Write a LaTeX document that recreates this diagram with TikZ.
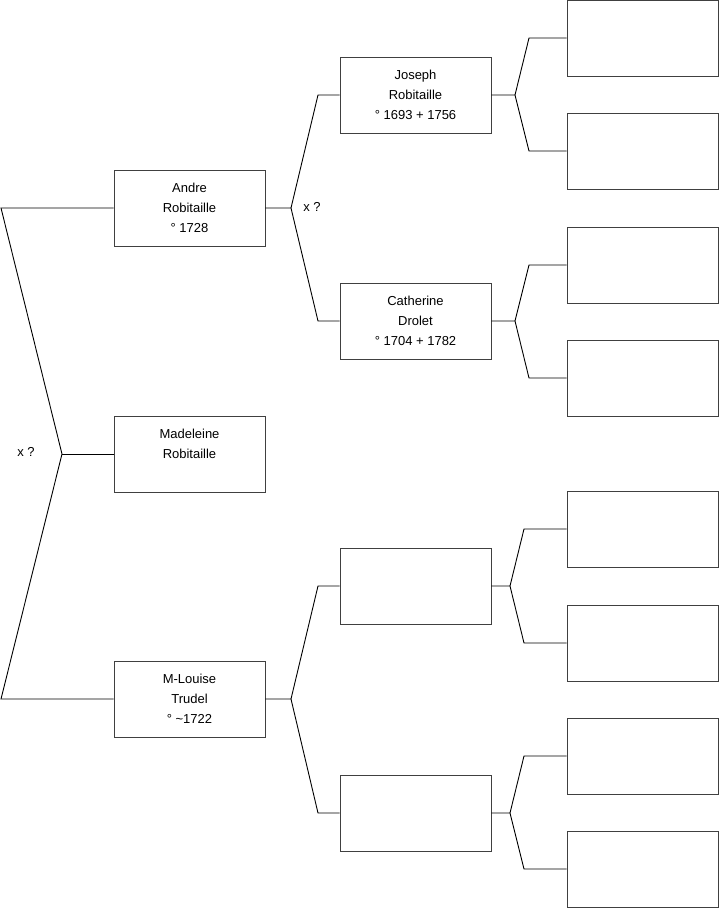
\documentclass[tikz,border=0pt]{standalone}
\usepackage{fontspec}
\setmainfont{Liberation Sans}
\begin{document}
\begin{tikzpicture}[x=1pt,y=-1pt,
  person/.style={draw=black!75,line width=0.9pt,minimum width=151pt,minimum height=76pt,inner sep=0pt,align=center,font=\fontsize{13}{20}\selectfont},
  link/.style={draw=black,line width=0.9pt},
  lbl/.style={font=\fontsize{13}{16}\selectfont,inner sep=0pt}]
\useasboundingbox (0,0) rectangle (719,908);
% generation 1
\node[person] (andre) at (189.5,208) {Andre\\Robitaille\\° 1728};
\node[person] (madeleine) at (189.5,454) {Madeleine\\Robitaille\\\mbox{}};
\node[person] (mlouise) at (189.5,699) {M-Louise\\Trudel\\° \textasciitilde1722};
% generation 2
\node[person] (joseph) at (415.5,95) {Joseph\\Robitaille\\° 1693 + 1756};
\node[person] (catherine) at (415.5,321) {Catherine\\Drolet\\° 1704 + 1782};
\node[person] (e1) at (415.5,586) {};
\node[person] (e2) at (415.5,813) {};
% generation 3
\node[person] (r1) at (642.5,38) {};
\node[person] (r2) at (642.5,151) {};
\node[person] (r3) at (642.5,265) {};
\node[person] (r4) at (642.5,378) {};
\node[person] (r5) at (642.5,529) {};
\node[person] (r6) at (642.5,643) {};
\node[person] (r7) at (642.5,756) {};
\node[person] (r8) at (642.5,869) {};
% left bracket
\coordinate (L1) at (1,208);
\coordinate (L2) at (62,454);
\coordinate (L3) at (1,699);
\draw[link] (andre.west) -- (L1) -- (L2) -- (L3) -- (mlouise.west);
\draw[link] (L2) -- (madeleine.west);
\node[lbl] (x1) at (26,452) {x ?};
% andre bracket
\coordinate (A0) at (291,208);
\coordinate (A1) at (318,95);
\coordinate (A2) at (318,321);
\draw[link] (andre.east) -- (A0) -- (A1) -- (joseph.west);
\draw[link] (A0) -- (A2) -- (catherine.west);
\node[lbl] (x2) at (312,207) {x ?};
% m-louise bracket
\coordinate (M0) at (291,699);
\coordinate (M1) at (318,586);
\coordinate (M2) at (318,813);
\draw[link] (mlouise.east) -- (M0) -- (M1) -- (e1.west);
\draw[link] (M0) -- (M2) -- (e2.west);
% joseph bracket
\coordinate (J0) at (515,95);
\coordinate (J1) at (529,38);
\coordinate (J2) at (529,151);
\draw[link] (joseph.east) -- (J0) -- (J1) -- (r1.west);
\draw[link] (J0) -- (J2) -- (r2.west);
% catherine bracket
\coordinate (C0) at (515,321);
\coordinate (C1) at (529,265);
\coordinate (C2) at (529,378);
\draw[link] (catherine.east) -- (C0) -- (C1) -- (r3.west);
\draw[link] (C0) -- (C2) -- (r4.west);
% e1 bracket
\coordinate (E0) at (510,586);
\coordinate (E1) at (524,529);
\coordinate (E2) at (524,643);
\draw[link] (e1.east) -- (E0) -- (E1) -- (r5.west);
\draw[link] (E0) -- (E2) -- (r6.west);
% e2 bracket
\coordinate (F0) at (510,813);
\coordinate (F1) at (524,756);
\coordinate (F2) at (524,869);
\draw[link] (e2.east) -- (F0) -- (F1) -- (r7.west);
\draw[link] (F0) -- (F2) -- (r8.west);
\end{tikzpicture}
\end{document}
